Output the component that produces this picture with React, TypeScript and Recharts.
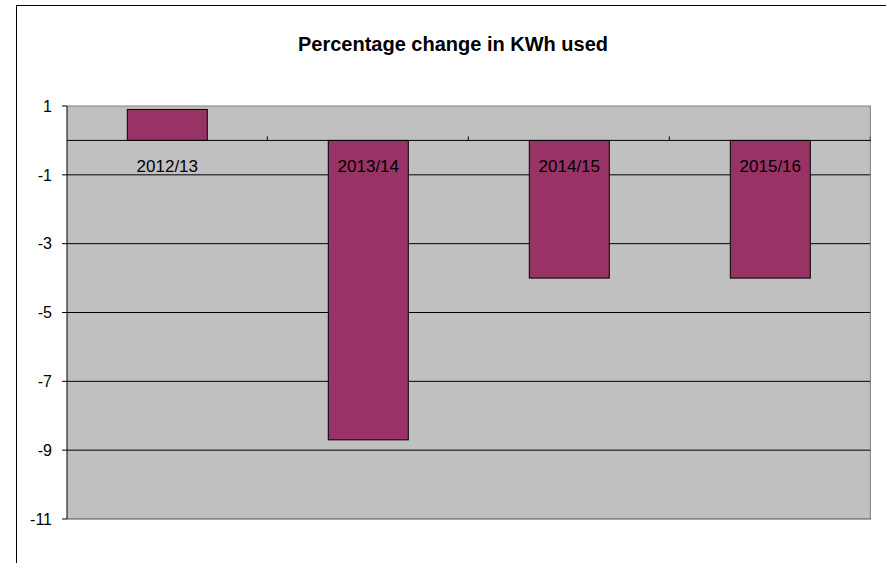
import React from 'react'
import {
  ComposedChart, Bar, XAxis, YAxis, CartesianGrid, ReferenceLine,
} from 'recharts'

const years = ['2012/13', '2013/14', '2014/15', '2015/16']
const changes = [0.9, -8.7, -4.0, -4.0]
const yTicks = [1, -1, -3, -5, -7, -9, -11]
const gridValues = [-1, -3, -5, -7, -9]

const data = years.map((year, i) => ({ year, change: changes[i] }))

const FONT = '"Liberation Sans", Arial, sans-serif'
const CATEGORY_GAP = 0.3

// bar + year label under the zero line + small tick at the band's right edge
const BarWithLabel = (props: any) => {
  const { x, y, width, height, payload, background, index } = props
  const top = Math.min(y, y + height)
  const bottom = Math.max(y, y + height)
  const zeroY = payload.change >= 0 ? bottom : top
  const band = width / (1 - 2 * CATEGORY_GAP)
  const bandRight = x + width / 2 + band / 2
  const isLast = index === years.length - 1
  return (
    <g>
      <rect x={x} y={top} width={width} height={bottom - top}
        fill="#993366" stroke="#000" strokeWidth={1} />
      <text x={x + width / 2} y={zeroY + 32} textAnchor="middle"
        fontSize={17} fontFamily={FONT} fill="#000">{payload.year}</text>
      <line x1={bandRight} x2={bandRight} y1={zeroY} y2={zeroY - 4} stroke="#000" />
      {isLast && background && (
        <line x1={bandRight} x2={bandRight} y1={background.y}
          y2={background.y + background.height} stroke="#808080" />
      )}
    </g>
  )
}

const App: React.FC = () => {
  return (
    <div style={{
      position: 'fixed', left: 0, top: 0, width: 886, height: 563,
      overflow: 'hidden', background: '#fff',
    }}>
      {/* outer chart frame */}
      <div style={{
        position: 'absolute', left: 16, top: 5, width: 900, height: 600,
        border: '1px solid #000',
      }} />
      <div style={{
        position: 'absolute', left: 0, top: 34, width: 906, textAlign: 'center',
        fontFamily: FONT, fontWeight: 700, fontSize: 20, lineHeight: '20px', color: '#000',
      }}>
        Percentage change in KWh used
      </div>
      <div style={{ position: 'absolute', left: 0, top: 0 }}>
        <ComposedChart width={886} height={563} data={data}
          barCategoryGap={`${CATEGORY_GAP * 100}%`}
          margin={{ top: 106, right: 15, bottom: 44, left: 0 }}>
          <CartesianGrid vertical={false} horizontalValues={gridValues}
            stroke="#000" strokeOpacity={1} fill="#C0C0C0" fillOpacity={1} />
          <XAxis dataKey="year" hide />
          <YAxis domain={[-11, 1]} ticks={yTicks} interval={0} width={67}
            axisLine={{ stroke: '#000' }} tickLine={{ stroke: '#000' }}
            tickSize={5} tickMargin={10}
            tick={{ fill: '#000', fontSize: 16, fontFamily: FONT }} />
          <ReferenceLine y={1} stroke="#808080" />
          <ReferenceLine y={-11} stroke="#505050" />
          <Bar dataKey="change" shape={BarWithLabel} isAnimationActive={false} />
          <ReferenceLine y={0} stroke="#000" />
        </ComposedChart>
      </div>
    </div>
  )
}

export default App
